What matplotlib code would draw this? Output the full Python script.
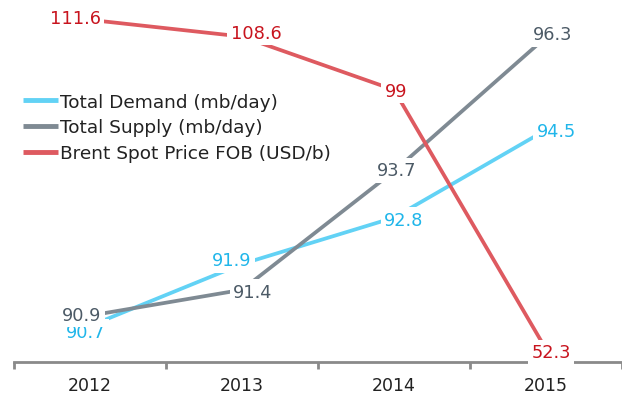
import matplotlib
matplotlib.use("Agg")
import matplotlib.pyplot as plt

years = ["2012", "2013", "2014", "2015"]
demand = [90.7, 91.9, 92.8, 94.5]
supply = [90.9, 91.4, 93.7, 96.3]
price = [111.6, 108.6, 99, 52.3]

plt.rcParams['font.family'] = ['DejaVu Sans']

c_dem, c_dem_t = '#62d2f5', '#20b6ea'
c_sup, c_sup_t = '#7f8a93', '#4c5a66'
c_pri, c_pri_t = '#de5a60', '#c8141e'

fig = plt.figure(figsize=(6.22, 4.02), dpi=100)
ax = fig.add_axes([14/622, 1 - 363/402, 608/622, 361/402])
ax2 = ax.twinx()

x = list(range(len(years)))
ax.plot(x, demand, color=c_dem, lw=2.7, solid_capstyle='butt', label='Total Demand (mb/day)')
ax.plot(x, supply, color=c_sup, lw=2.7, solid_capstyle='butt', label='Total Supply (mb/day)')
ax2.plot(x, price, color=c_pri, lw=2.7, solid_capstyle='butt', label='Brent Spot Price FOB (USD/b)')

ax.set_ylim(90, 97)
ax2.set_ylim(50, 115)
ax.set_xlim(-0.5, 3.5)

for a in (ax, ax2):
    for s in ('top', 'right', 'left'):
        a.spines[s].set_visible(False)
    a.set_yticks([])
ax2.spines['bottom'].set_visible(False)
ax.spines['bottom'].set_color('#8a8a8a')
ax.spines['bottom'].set_linewidth(2)

ax.set_xticks([-0.5, 0.5, 1.5, 2.5, 3.5])
ax.set_xticklabels([])
ax.tick_params(axis='x', which='major', length=5, width=2, color='#8a8a8a', direction='out')
ax.set_xticks(x, minor=True)
ax.set_xticklabels(years, minor=True, fontsize=12.5, color='#222222')
ax.tick_params(axis='x', which='minor', length=0, pad=10)

box = dict(boxstyle='square,pad=0.2', fc='white', ec='none')

def label(vals, trans, color, offs):
    for i, v in enumerate(vals):
        ax2.annotate(f"{v:g}", (i, v), xycoords=trans, xytext=offs[i],
                     textcoords='offset pixels', ha='center', va='center',
                     fontsize=12.8, color=color, bbox=box, zorder=10)

label(demand, ax.transData, c_dem_t, [(-4, -6), (-10, 4), (10, -2), (10, -1)])
label(supply, ax.transData, c_sup_t, [(-8, 1), (11, -2), (3, 1), (7, 3)])
label(price, ax2.transData, c_pri_t, [(-15, 2), (14, 4), (2, -1), (5, -3)])

h1, l1 = ax.get_legend_handles_labels()
h2, l2 = ax2.get_legend_handles_labels()
leg = ax2.legend(h1 + h2, l1 + l2, loc='upper left', bbox_to_anchor=(6/622, 1 - 77/402),
                 bbox_transform=fig.transFigure, frameon=False, fontsize=13.3,
                 handlelength=1.9, handletextpad=0.15, labelspacing=0.42)
for ln in leg.get_lines():
    ln.set_linewidth(3.5)
for t in leg.get_texts():
    t.set_color('#222222')

fig.savefig("out.png", dpi=100)
